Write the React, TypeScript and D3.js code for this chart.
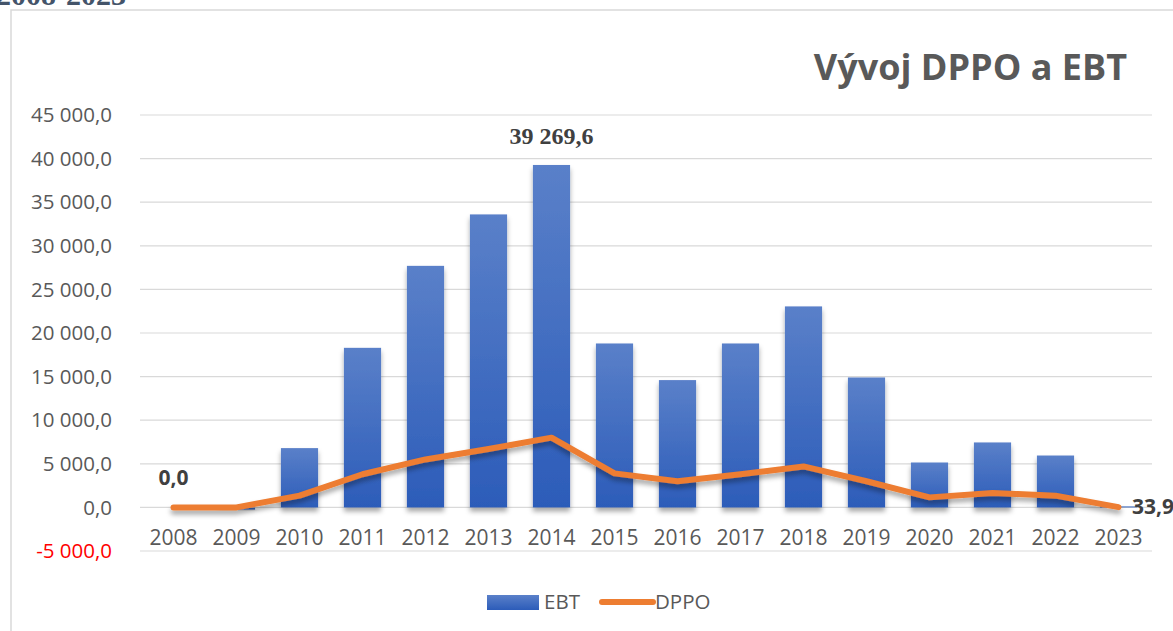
import React from 'react';
import * as d3 from 'd3';

const years = ['2008', '2009', '2010', '2011', '2012', '2013', '2014', '2015', '2016', '2017', '2018', '2019', '2020', '2021', '2022', '2023'];
const ebt = [0, -250, 6800, 18300, 27700, 33600, 39269.6, 18800, 14600, 18800, 23050, 14900, 5150, 7450, 5950, 120];
const dppo = [0, 0, 1350, 3800, 5500, 6700, 8000, 3900, 3000, 3800, 4700, 3000, 1150, 1650, 1350, 33.9];
const yTicks = [-5000, 0, 5000, 10000, 15000, 20000, 25000, 30000, 35000, 40000, 45000];

const W = 1173;
const H = 631;
const fontSans = "'Open Sans', 'Noto Sans', sans-serif";

// 12 345,6 style
const fmt = (v: number) => {
  const s = d3.format(',.1f')(v);
  return s.replace(/,/g, ' ').replace('.', ',').replace('−', '-');
};

export default function App() {
  const x = d3.scaleBand().domain(years).range([142, 1150]).paddingInner(0.41).paddingOuter(0.205);
  const xc = (yr: string) => (x(yr) ?? 0) + x.bandwidth() / 2;
  const y = d3.scaleLinear().domain([-5000, 45000]).range([551, 115]);

  const line = d3.line<number>()
    .x((_, i) => xc(years[i]))
    .y(d => y(d));

  const maxI = ebt.indexOf(d3.max(ebt) as number);

  return (
    <svg width={W} height={H} style={{ position: 'absolute', left: 0, top: 0, background: '#fff' }}>
      <defs>
        <linearGradient id="barGrad" x1="0" y1="0" x2="0" y2="1">
          <stop offset="0%" stopColor="#5a80c9" />
          <stop offset="100%" stopColor="#2c5cb9" />
        </linearGradient>
        <filter id="shadow" x="-30%" y="-10%" width="160%" height="130%">
          <feDropShadow dx="0" dy="4" stdDeviation="2.5" floodColor="#000" floodOpacity="0.35" />
        </filter>
      </defs>

      <text x={-4} y={5} fontFamily="'Liberation Serif', serif" fontWeight="bold" fontSize={30} fill="#44546a">2008-2023</text>

      {/* chart area border */}
      <path d={`M11,${H + 2} L11,10 L${W + 2},10`} fill="none" stroke="#d9d9d9" strokeWidth={1.5} />

      <text x={1127} y={80} textAnchor="end" fontFamily={fontSans} fontWeight="bold" fontSize={36} fill="#595959">Vývoj DPPO a EBT</text>

      {yTicks.map(t => (
        <g key={t}>
          <line x1={140} x2={1152} y1={y(t)} y2={y(t)} stroke="#d9d9d9" strokeWidth={1.2} />
          <text x={112} y={y(t)} dy="0.35em" textAnchor="end" fontFamily={fontSans} fontSize={20.5} fill={t < 0 ? '#ff0000' : '#595959'}>{fmt(t)}</text>
        </g>
      ))}

      {ebt.map((v, i) => (
        <rect key={years[i]} x={x(years[i])} width={x.bandwidth()}
          y={Math.min(y(v), y(0))} height={Math.abs(y(v) - y(0))}
          fill="url(#barGrad)" filter="url(#shadow)" />
      ))}

      <path d={line(dppo) ?? ''} fill="none" stroke="#ed7d31" strokeWidth={6} strokeLinejoin="round" strokeLinecap="round" filter="url(#shadow)" />

      {years.map(yr => (
        <text key={yr} x={xc(yr)} y={538} dy="0.35em" textAnchor="middle" fontFamily={fontSans} fontSize={21} fill="#595959">{yr}</text>
      ))}

      <text x={xc(years[maxI])} y={y(ebt[maxI]) - 21} textAnchor="middle" fontFamily="'Liberation Serif', serif" fontWeight="bold" fontSize={24} fill="#404040">{fmt(ebt[maxI])}</text>
      <text x={xc(years[0])} y={y(dppo[0]) - 22} textAnchor="middle" fontFamily={fontSans} fontWeight="bold" fontSize={21} fill="#404040">{fmt(dppo[0])}</text>
      <text x={1132} y={y(dppo[15])} dy="0.35em" fontFamily={fontSans} fontWeight="bold" fontSize={21} fill="#404040">{fmt(dppo[15])}</text>

      {/* legend */}
      <rect x={487} y={595} width={52} height={15} fill="url(#barGrad)" />
      <text x={544} y={602} dy="0.35em" fontFamily={fontSans} fontSize={20.5} fill="#595959">EBT</text>
      <line x1={602} x2={653} y1={602} y2={602} stroke="#ed7d31" strokeWidth={6} strokeLinecap="round" />
      <text x={655} y={602} dy="0.35em" fontFamily={fontSans} fontSize={20.5} fill="#595959">DPPO</text>
    </svg>
  );
}
